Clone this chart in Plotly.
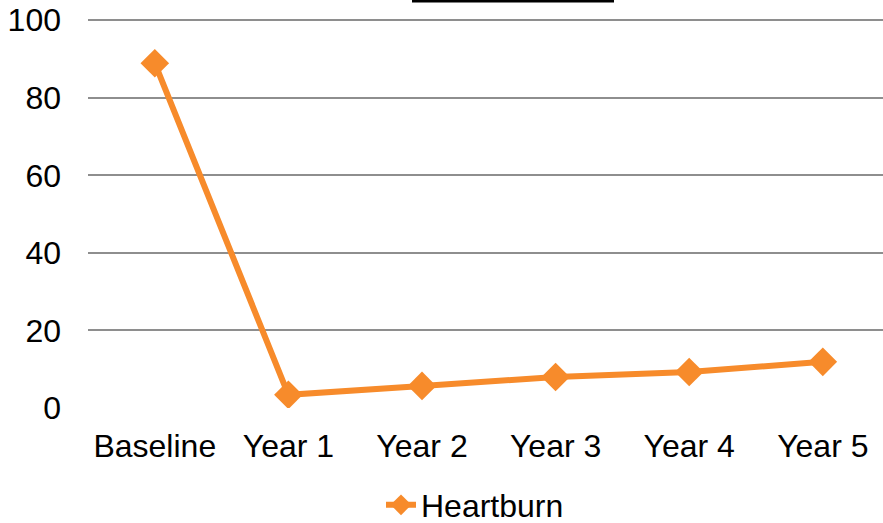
import plotly.graph_objects as go

categories = ["Baseline", "Year 1", "Year 2", "Year 3", "Year 4", "Year 5"]
heartburn = [88.9, 3.4, 5.7, 8.0, 9.3, 11.9]
y_ticks = [0, 20, 40, 60, 80, 100]

ORANGE = "#F78B2B"
GRID = "#8e8e8e"
FONT = "Liberation Sans, Arial, sans-serif"
FS = 32

fig = go.Figure()
fig.add_trace(go.Scatter(
    x=list(range(len(categories))),
    y=heartburn,
    mode="lines+markers",
    name="Heartburn",
    line=dict(color=ORANGE, width=6),
    marker=dict(symbol="diamond", size=22, color=ORANGE),
))

L, T, B = 88, 19, 115
W, H = 883, 523
plot_w = W - L
plot_h = H - T - B

fig.update_layout(
    width=W, height=H,
    margin=dict(l=L, r=0, t=T, b=B, pad=0, autoexpand=False),
    paper_bgcolor="white",
    plot_bgcolor="white",
    font=dict(family=FONT, size=FS, color="#000000"),
    showlegend=True,
    legend=dict(
        orientation="h",
        x=(381 - L) / plot_w, xanchor="left",
        y=-(505 - (H - B)) / plot_h, yanchor="middle",
        font=dict(size=FS, family=FONT),
        bgcolor="rgba(0,0,0,0)",
    ),
    xaxis=dict(
        tickmode="array",
        tickvals=list(range(len(categories))),
        ticktext=categories,
        range=[-0.5, -0.5 + plot_w / 133.6],
        showgrid=False,
        zeroline=False,
        showline=False,
        ticks="",
        ticklabelstandoff=16,
        tickfont=dict(size=FS),
        automargin=False,
    ),
    yaxis=dict(
        range=[0, 100.3],
        tickvals=y_ticks,
        showgrid=True,
        gridcolor=GRID,
        gridwidth=2,
        zeroline=False,
        showline=False,
        ticks="",
        ticklabelstandoff=26,
        tickfont=dict(size=FS),
        automargin=False,
    ),
    shapes=[dict(
        type="line", xref="paper", yref="paper",
        x0=(412 - L) / plot_w, x1=(614 - L) / plot_w,
        y0=(H - B - 1) / plot_h, y1=(H - B - 1) / plot_h,
        line=dict(color="black", width=3),
    )],
)

fig.write_html(
    "out.html",
    config={"displayModeBar": False},
    post_script="document.body.style.margin='0';document.body.style.padding='0';",
)
